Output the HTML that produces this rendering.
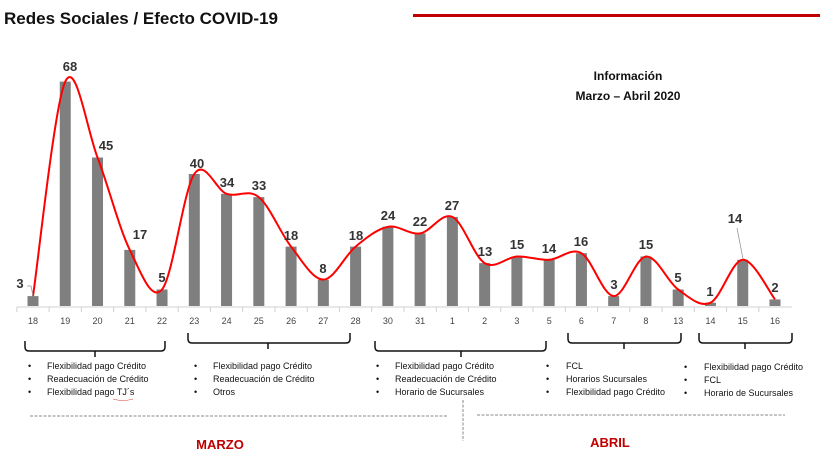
<!DOCTYPE html>
<html><head><meta charset="utf-8"><style>
body{margin:0;background:#fff;width:820px;height:458px;overflow:hidden;font-family:"Liberation Sans",sans-serif}
svg text{font-family:"Liberation Sans",sans-serif}
</style></head><body>
<svg width="820" height="458" viewBox="0 0 820 458" xmlns="http://www.w3.org/2000/svg">
<text x="4" y="24" font-size="17" font-weight="bold" fill="#111">Redes Sociales / Efecto COVID-19</text>
<rect x="413" y="14" width="407" height="3" fill="#c00000"/>
<text x="628" y="80" font-size="12" font-weight="bold" text-anchor="middle" fill="#111">Información</text>
<text x="628" y="100" font-size="12" font-weight="bold" text-anchor="middle" fill="#111">Marzo – Abril 2020</text>
<g id="bars" fill="#7f7f7f"></g>
<line x1="17" y1="307" x2="792" y2="307" stroke="#d0d0d0" stroke-width="1"/>
<g id="ticks" stroke="#d0d0d0"></g>
<path id="curve" fill="none" stroke="#ff0000" stroke-width="2"/>
<g font-size="13" font-weight="bold" fill="#333" text-anchor="middle">
<text x="20" y="288">3</text>
<text x="70" y="71">68</text>
<text x="106" y="150">45</text>
<text x="140" y="239">17</text>
<text x="162" y="282">5</text>
<text x="197" y="168">40</text>
<text x="227" y="187">34</text>
<text x="259" y="190">33</text>
<text x="291" y="240">18</text>
<text x="323" y="273">8</text>
<text x="356" y="240">18</text>
<text x="388" y="220">24</text>
<text x="420" y="226">22</text>
<text x="452" y="210">27</text>
<text x="485" y="256">13</text>
<text x="517" y="249">15</text>
<text x="549" y="253">14</text>
<text x="581" y="246">16</text>
<text x="614" y="289">3</text>
<text x="646" y="249">15</text>
<text x="678" y="282">5</text>
<text x="710" y="296">1</text>
<text x="735" y="223">14</text>
<text x="775" y="292">2</text>
</g>
<polyline points="27,286 31,286 33,296" fill="none" stroke="#999" stroke-width="0.8"/>
<polyline points="737,228 743,259" fill="none" stroke="#999" stroke-width="0.8"/>
<g id="labels" font-size="9" fill="#444" text-anchor="middle">
<text x="33" y="324">18</text><text x="65.3" y="324">19</text><text x="97.5" y="324">20</text><text x="129.8" y="324">21</text><text x="162" y="324">22</text><text x="194.3" y="324">23</text><text x="226.6" y="324">24</text><text x="258.8" y="324">25</text><text x="291.1" y="324">26</text><text x="323.3" y="324">27</text><text x="355.6" y="324">28</text><text x="387.9" y="324">30</text><text x="420.1" y="324">31</text><text x="452.4" y="324">1</text><text x="484.6" y="324">2</text><text x="516.9" y="324">3</text><text x="549.2" y="324">5</text><text x="581.4" y="324">6</text><text x="613.7" y="324">7</text><text x="645.9" y="324">8</text><text x="678.2" y="324">13</text><text x="710.5" y="324">14</text><text x="742.7" y="324">15</text><text x="775" y="324">16</text>
</g>
<g fill="none" stroke="#111" stroke-width="1.5">
<path d="M25,341 v6 q0,4 4,4 h132 q4,0 4,-4 v-6 M95,351 v6"/>
<path d="M188,333 v6 q0,4 4,4 h154 q4,0 4,-4 v-6 M268,343 v6"/>
<path d="M375,341 v6 q0,4 4,4 h163 q4,0 4,-4 v-6 M461,351 v6"/>
<path d="M568,333 v6 q0,4 4,4 h105 q4,0 4,-4 v-6 M624,343 v6"/>
<path d="M699,333 v6 q0,4 4,4 h85 q4,0 4,-4 v-6 M745,343 v6"/>
</g>
<g font-size="9" fill="#111">
<text x="28" y="369">•</text><text x="47" y="369">Flexibilidad pago Crédito</text>
<text x="28" y="382">•</text><text x="47" y="382">Readecuación de Crédito</text>
<text x="28" y="395">•</text><text x="47" y="395">Flexibilidad pago TJ´s</text>
<text x="194" y="369">•</text><text x="213" y="369">Flexibilidad pago Crédito</text>
<text x="194" y="382">•</text><text x="213" y="382">Readecuación de Crédito</text>
<text x="194" y="395">•</text><text x="213" y="395">Otros</text>
<text x="376" y="369">•</text><text x="395" y="369">Flexibilidad pago Crédito</text>
<text x="376" y="382">•</text><text x="395" y="382">Readecuación de Crédito</text>
<text x="376" y="395">•</text><text x="395" y="395">Horario de Sucursales</text>
<text x="546" y="369">•</text><text x="566" y="369">FCL</text>
<text x="546" y="382">•</text><text x="566" y="382">Horarios Sucursales</text>
<text x="546" y="395">•</text><text x="566" y="395">Flexibilidad pago Crédito</text>
<text x="684" y="370">•</text><text x="704" y="370">Flexibilidad pago Crédito</text>
<text x="684" y="383">•</text><text x="704" y="383">FCL</text>
<text x="684" y="396">•</text><text x="704" y="396">Horario de Sucursales</text>
</g>
<path d="M113,399 q10,3 20,0" stroke="#e04040" stroke-width="0.6" fill="none"/>
<g stroke="#888" stroke-width="1" stroke-dasharray="3,1.5">
<line x1="30" y1="416" x2="448" y2="416"/>
<line x1="477" y1="415" x2="785" y2="415"/>
<line x1="463" y1="400" x2="463" y2="441"/>
</g>
<text x="220" y="449" font-size="13" font-weight="bold" fill="#c00000" text-anchor="middle">MARZO</text>
<text x="610" y="447" font-size="13" font-weight="bold" fill="#c00000" text-anchor="middle">ABRIL</text>
</svg>
<script>
var v=[3,68,45,17,5,40,34,33,18,8,18,24,22,27,13,15,14,16,3,15,5,1,14,2];
var ns="http://www.w3.org/2000/svg",bars=document.getElementById('bars'),ticks=document.getElementById('ticks');
var P=[];
for(var i=0;i<v.length;i++){var x=33+32.26*i,y=306-3.3*v[i];P.push([x,y]);
var r=document.createElementNS(ns,'rect');r.setAttribute('x',x-5.5);r.setAttribute('y',y);r.setAttribute('width',11);r.setAttribute('height',306-y);bars.appendChild(r);
var l=document.createElementNS(ns,'line');var tx=x-16.13;l.setAttribute('x1',tx);l.setAttribute('x2',tx);l.setAttribute('y1',307);l.setAttribute('y2',312);ticks.appendChild(l);}
var d='M'+P[0][0]+','+P[0][1];
for(var i=0;i<P.length-1;i++){var p0=P[Math.max(i-1,0)],p1=P[i],p2=P[i+1],p3=P[Math.min(i+2,P.length-1)];
var c1=[p1[0]+(p2[0]-p0[0])/6,p1[1]+(p2[1]-p0[1])/6],c2=[p2[0]-(p3[0]-p1[0])/6,p2[1]-(p3[1]-p1[1])/6];
d+=' C'+c1+' '+c2+' '+p2;}
document.getElementById('curve').setAttribute('d',d);
</script>
</body></html>
